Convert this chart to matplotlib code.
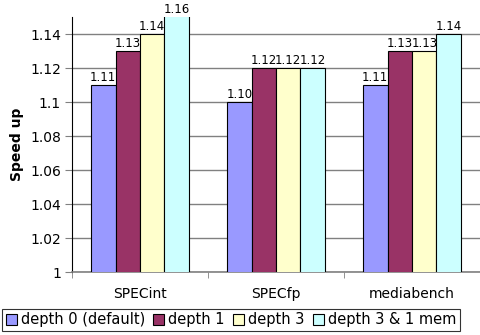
import matplotlib.pyplot as plt
import numpy as np

# speed-up per benchmark suite for each configuration
suites = ['SPECint', 'SPECfp', 'mediabench']
configs = ['depth 0 (default)', 'depth 1', 'depth 3', 'depth 3 & 1 mem']
depth0 = [1.11, 1.10, 1.11]
depth1 = [1.13, 1.12, 1.13]
depth3 = [1.14, 1.12, 1.13]
depth3_mem = [1.16, 1.12, 1.14]
colors = ['#9999FF', '#993366', '#FFFFCC', '#CCFFFF']

plt.rcParams['font.family'] = 'DejaVu Sans'
fig = plt.figure(figsize=(4.8, 3.35), dpi=100)
ax = fig.add_axes([0.15, 0.188, 0.85, 0.761])

ymin, ymax = 1.0, 1.15
x = np.arange(len(suites))
w = 0.18
series = [depth0, depth1, depth3, depth3_mem]
for i, (vals, col, name) in enumerate(zip(series, colors, configs)):
    pos = x + (i - 1.5) * w
    ax.bar(pos, vals, w, color=col, edgecolor='black', linewidth=0.8,
           label=name, zorder=3)
    for px, v in zip(pos, vals):
        ax.annotate(f'{v:.2f}', (px, min(v, ymax)), xytext=(0, 1),
                    textcoords='offset points', ha='center', va='bottom',
                    fontsize=8.5, annotation_clip=False)

ax.set_ylim(ymin, ymax)
ax.set_xlim(-0.5, 2.5)
ax.set_yticks(np.arange(1.0, 1.141, 0.02))
ax.set_yticklabels(['1', '1.02', '1.04', '1.06', '1.08', '1.1', '1.12', '1.14'])
ax.yaxis.grid(True, color='#808080', linewidth=1, zorder=0)
ax.set_axisbelow(True)

ax.set_xticks(x)
ax.set_xticklabels(suites)
ax.set_xticks([-0.5, 0.5, 1.5, 2.5], minor=True)
ax.tick_params(axis='x', which='major', length=0, pad=11, labelsize=10)
ax.tick_params(axis='x', which='minor', length=4, color='#808080')
ax.tick_params(axis='y', length=5, color='#808080', labelsize=10, pad=3)

for s in ['top', 'right']:
    ax.spines[s].set_visible(False)
ax.spines['left'].set_color('black')
ax.spines['bottom'].set_color('#808080')
ax.spines['bottom'].set_linewidth(1.2)

ax.set_ylabel('Speed up', fontweight='bold', fontsize=10, labelpad=4)

leg = fig.legend(loc='lower left', bbox_to_anchor=(0.004, 0.012), ncol=4,
                 fontsize=10.5, frameon=True, fancybox=False,
                 handlelength=0.75, handleheight=0.75, handletextpad=0.3,
                 columnspacing=0.55, borderpad=0.25, borderaxespad=0)
leg.get_frame().set_edgecolor('black')
leg.get_frame().set_linewidth(0.8)

fig.savefig('out.png', dpi=100)
